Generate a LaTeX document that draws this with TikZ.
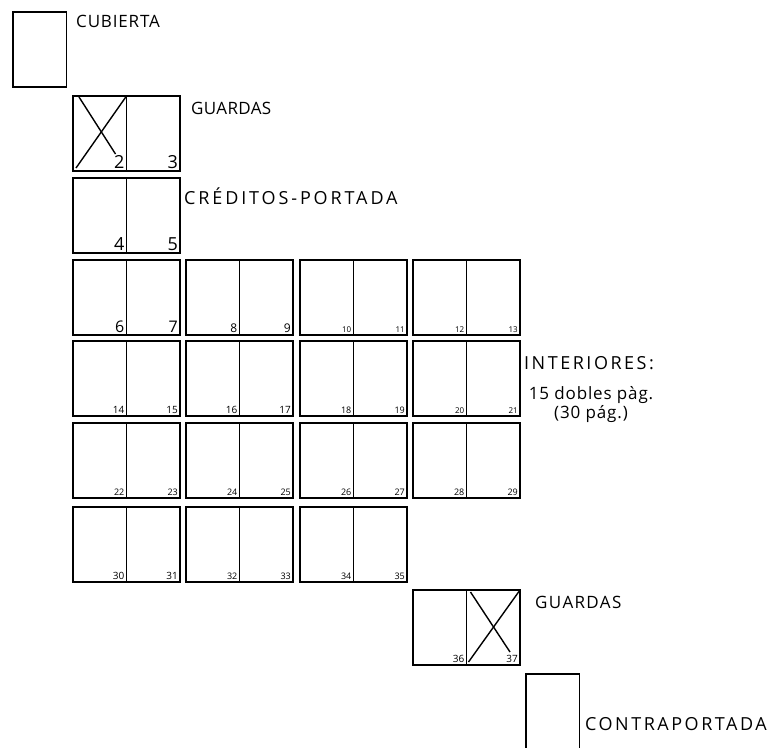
\documentclass[tikz,border=0pt]{standalone}
\usepackage{fontspec}
\setmainfont{Open Sans}
\usetikzlibrary{positioning, calc}
\tikzset{
    pagebox/.style={
        draw,
        line width=1.6pt,
        minimum width=53.5pt,
        minimum height=75pt,
        inner sep=0pt,
        outer sep=0pt
    },
    num/.style={anchor=south east, inner sep=2pt, font=\fontsize{9}{9}\selectfont},
    bignum/.style={num, font=\fontsize{18}{18}\selectfont},
    tag/.style={anchor=base west, inner sep=0pt, font=\fontsize{16}{16}\selectfont},
    note/.style={anchor=base, inner sep=0pt, align=center, font=\fontsize{17}{16}\selectfont\addfontfeatures{LetterSpace=5}},
    cross/.style={line width=1.4pt}
}
\begin{document}
\begin{tikzpicture}[x=1pt, y=-1pt]
\useasboundingbox (0,0) rectangle (779,747);

% cubierta
\node[pagebox, anchor=north west] (cub) at (13,12) {};
\node[tag, font=\fontsize{17}{17}\selectfont\addfontfeatures{LetterSpace=5}] (tcub) at (76,27) {CUBIERTA};

% guardas delanteras
\node[pagebox, anchor=north west] (p2) at (73,96) {};
\node[pagebox, right=0pt of p2] (p3) {};
\node[bignum] at (p2.south east) {2};
\node[bignum] at (p3.south east) {3};
\draw[cross] ($(p2.south west)+(3,-3)$) -- (p2.north east);
\draw[cross] ($(p2.north west)+(6,1)$) -- ($(p2.south east)+(-11,-17)$);
\node[tag, font=\fontsize{17}{17}\selectfont\addfontfeatures{LetterSpace=2}] (tguar) at (191,114) {GUARDAS};

% creditos y portada
\node[pagebox, anchor=north west] (p4) at (73,178) {};
\node[pagebox, right=0pt of p4] (p5) {};
\node[bignum] at (p4.south east) {4};
\node[bignum] at (p5.south east) {5};
\node[tag, font=\fontsize{18}{18}\selectfont\addfontfeatures{LetterSpace=16}] (tcred) at (184,204) {CRÉDITOS-PORTADA};

% interiores
\node[pagebox, anchor=north west] (p6) at (73,260) {};
\node[pagebox, right=0pt of p6] (p7) {};
\node[num, font=\fontsize{16}{16}\selectfont] at (p6.south east) {6};
\node[num, font=\fontsize{16}{16}\selectfont] at (p7.south east) {7};
\foreach \x/\y/\a/\b/\s in {186/260/8/9/12, 300/260/10/11/8, 413/260/12/13/8,
                            73/341/14/15/10, 186/341/16/17/10, 300/341/18/19/9, 413/341/20/21/8,
                            73/423/22/23/9, 186/423/24/25/9, 300/423/26/27/9, 413/423/28/29/9,
                            73/507/30/31/10, 186/507/32/33/9, 300/507/34/35/9} {
    \node[pagebox, anchor=north west] (p\a) at (\x,\y) {};
    \node[pagebox, right=0pt of p\a] (p\b) {};
    \node[num, font=\fontsize{\s}{\s}\selectfont] at (p\a.south east) {\a};
    \node[num, font=\fontsize{\s}{\s}\selectfont] at (p\b.south east) {\b};
}
\node[tag, font=\fontsize{18}{18}\selectfont\addfontfeatures{LetterSpace=14}] (tint) at (524,369) {INTERIORES:};
\node[note] (tdob) at (591,418) {15 dobles pàg.\\(30 pág.)};

% guardas traseras
\node[pagebox, anchor=north west] (p36) at (413,590) {};
\node[pagebox, right=0pt of p36] (p37) {};
\node[num, font=\fontsize{10}{10}\selectfont] at (p36.south east) {36};
\node[num, font=\fontsize{10}{10}\selectfont] at (p37.south east) {37};
\draw[cross] ($(p37.south west)+(2,-3)$) -- (p37.north east);
\draw[cross] ($(p37.north west)+(4,2)$) -- ($(p37.south east)+(-10,-13)$);
\node[tag, font=\fontsize{17}{17}\selectfont\addfontfeatures{LetterSpace=8}] (tguar2) at (535,608) {GUARDAS};

% contraportada
\node[pagebox, anchor=north west] (contra) at (526,674) {};
\node[tag, font=\fontsize{18}{18}\selectfont\addfontfeatures{LetterSpace=14}] (tcontra) at (585,730) {CONTRAPORTADA};
\end{tikzpicture}
\end{document}
